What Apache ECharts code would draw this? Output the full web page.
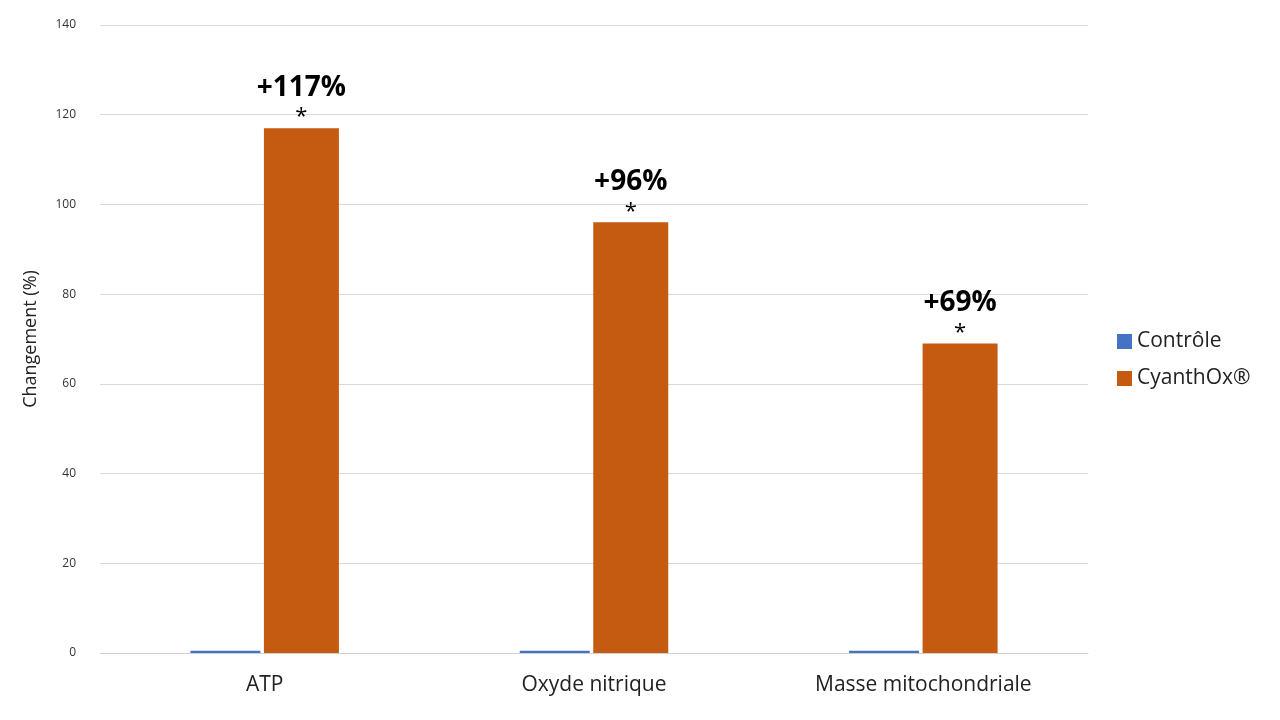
<!DOCTYPE html>
<html lang="fr">
<head>
    <meta charset="UTF-8">
    <title>ECharts</title>
    <script src="https://cdn.jsdelivr.net/npm/echarts@6/dist/echarts.min.js"></script>
    <style type="text/css">
        *{margin: 0;padding: 0;border: none}
        html,body{width: 100%;height: 100%;overflow: hidden;background: #fff}
        #main{width: 1280px;height: 720px}
    </style>
</head>
<body>
<div id="main"></div>
<script type="text/javascript">
    var categories = ['ATP', 'Oxyde nitrique', 'Masse mitochondriale'];
    var controle = [0.5, 0.5, 0.5];
    var cyanthox = [117, 96, 69];
    var labels = ['+117%', '+96%', '+69%'];

    var myChart = echarts.init(document.getElementById('main'));
    var font = 'Open Sans, Calibri, Liberation Sans, sans-serif';
    var option = {
        animation: false,
        textStyle: {fontFamily: font},
        grid: {left: 100, right: 192, top: 25, bottom: 67},
        legend: {
            orient: 'vertical',
            left: 1112,
            top: 326,
            itemGap: 16,
            itemWidth: 15,
            itemHeight: 15,
            icon: 'rect',
            textStyle: {fontSize: 21, color: '#222', fontFamily: font},
            data: ['Contrôle', 'CyanthOx®']
        },
        xAxis: {
            type: 'category',
            data: categories,
            axisTick: {show: false},
            axisLine: {lineStyle: {color: '#d0d0d0'}},
            axisLabel: {fontSize: 21, color: '#222', margin: 22}
        },
        yAxis: {
            type: 'value',
            min: 0,
            max: 140,
            interval: 20,
            name: 'Changement (%)',
            nameLocation: 'middle',
            nameGap: 60,
            nameTextStyle: {fontSize: 18, color: '#222'},
            axisLabel: {fontSize: 12, color: '#333', margin: 24},
            splitLine: {lineStyle: {color: '#d9d9d9'}}
        },
        series: [
            {
                name: 'Contrôle',
                type: 'bar',
                barWidth: 70,
                barGap: '5%',
                itemStyle: {color: '#4472c4'},
                data: controle
            },
            {
                name: 'CyanthOx®',
                type: 'bar',
                barWidth: 75,
                itemStyle: {color: '#c55a11'},
                label: {
                    show: true,
                    position: 'top',
                    distance: 0,
                    formatter: function (p) {
                        return '{pct|' + labels[p.dataIndex] + '}\n{star|*}';
                    },
                    rich: {
                        pct: {fontSize: 28, fontWeight: 'bold', color: '#000', lineHeight: 36},
                        star: {fontSize: 22, color: '#000', lineHeight: 22}
                    }
                },
                data: cyanthox
            }
        ]
    };
    myChart.setOption(option);
</script>
</body>
</html>
